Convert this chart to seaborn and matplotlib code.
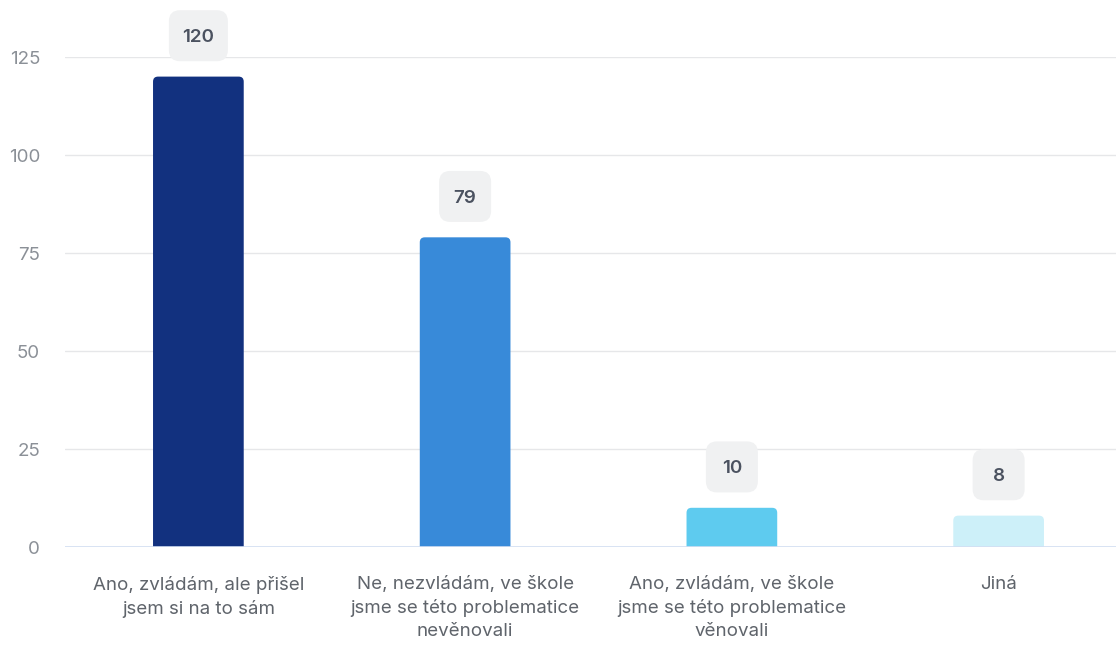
import matplotlib
matplotlib.use("Agg")
import matplotlib.pyplot as plt
from matplotlib.patches import FancyBboxPatch
from matplotlib.transforms import IdentityTransform
import seaborn as sns
import pandas as pd

categories = [
    "Ano, zvládám, ale přišel\njsem si na to sám",
    "Ne, nezvládám, ve škole\njsme se této problematice\nnevěnovali",
    "Ano, zvládám, ve škole\njsme se této problematice\nvěnovali",
    "Jiná",
]
values = [120, 79, 10, 8]
colors = ["#12317f", "#388ad9", "#5ecbef", "#cdf0f9"]
y_ticks = [0, 25, 50, 75, 100, 125]

sns.set_theme(style="white")
plt.rcParams["font.family"] = ["Inter", "DejaVu Sans"]

df = pd.DataFrame({"kategorie": categories, "pocet": values})

W, H = 1116, 648
ax_left, ax_right = 65, 1132
ax_bottom, ax_top = 547, 57
fig = plt.figure(figsize=(W / 100, H / 100), dpi=100)
ax = fig.add_axes([ax_left / W, (H - ax_bottom) / H,
                   (ax_right - ax_left) / W, (ax_bottom - ax_top) / H])

sns.barplot(data=df, x="kategorie", y="pocet", hue="kategorie",
            palette=colors, legend=False, width=0.34, ax=ax,
            saturation=1)

ax.set_ylim(0, 125)
ax.set_xlim(-0.5, 3.5)
ax.set_yticks(y_ticks)
ax.yaxis.grid(True, color="#e6e7e9", linewidth=1)
ax.set_axisbelow(True)
for s in ["top", "right", "left", "bottom"]:
    ax.spines[s].set_visible(False)
ax.axhline(0, color="#d3dff2", linewidth=1.2, zorder=3)

ax.set_xlabel("")
ax.set_ylabel("")
ax.tick_params(axis="y", colors="#8b9097", labelsize=13.5, pad=18, length=0)
ax.tick_params(axis="x", colors="#5f646b", labelsize=13.5, pad=21, length=0)
for lbl in ax.get_xticklabels():
    lbl.set_linespacing(1.45)

# replace the square bars with bars that have rounded top corners;
# the bottom corners extend below zero and are clipped by the axes
ppu_y = (ax_bottom - ax_top) / 125
ppu_x = (ax_right - ax_left) / 4
r_px = 5
for p in list(ax.patches):
    x0, w = p.get_x(), p.get_width()
    h = p.get_height()
    col = p.get_facecolor()
    p.remove()
    ext = 2 * r_px / ppu_y
    rect = FancyBboxPatch(
        (x0, -ext), w, h + ext,
        boxstyle=f"round,pad=0,rounding_size={r_px / ppu_x}",
        mutation_aspect=ppu_x / ppu_y,
        facecolor=col, edgecolor="none", linewidth=0, zorder=2)
    ax.add_patch(rect)

# value badges above the bars
texts = []
for i, v in enumerate(values):
    t = ax.annotate(
        f"{v}", xy=(i, v), xytext=(0, 28), textcoords="offset points",
        ha="center", va="center", fontsize=13.5, fontweight="semibold",
        color="#4b5260", annotation_clip=False, zorder=6)
    texts.append(t)

fig.canvas.draw()
renderer = fig.canvas.get_renderer()
for t in texts:
    bb = t.get_window_extent(renderer)
    cx = (bb.x0 + bb.x1) / 2
    cy = (bb.y0 + bb.y1) / 2 + 2
    bw = max(52, bb.width + 27)
    bh = 51
    badge = FancyBboxPatch(
        (cx - bw / 2, cy - bh / 2), bw, bh,
        boxstyle="round,pad=0,rounding_size=11",
        transform=IdentityTransform(), facecolor="#f0f1f2",
        edgecolor="none", linewidth=0, zorder=5)
    badge.set_clip_on(False)
    ax.add_artist(badge)

fig.savefig("out.png", dpi=100, facecolor="white")
